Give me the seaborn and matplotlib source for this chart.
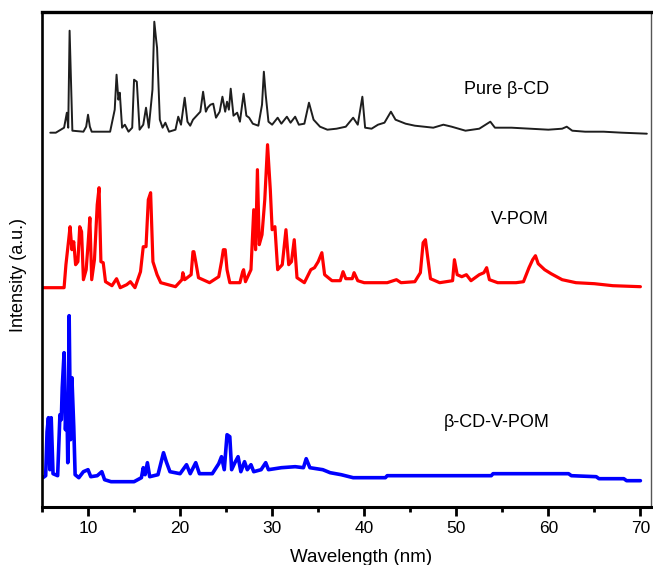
import matplotlib
matplotlib.use("Agg")
import matplotlib.pyplot as plt
from matplotlib.ticker import MultipleLocator
import seaborn as sns

# ---- data ----
pure_x = [5.9, 6.5, 7.4, 7.7, 7.85, 8.0, 8.3, 9.5, 9.8, 10.0, 10.2, 10.4, 12.4, 12.9, 13.1, 13.3, 13.45, 13.7,
          14.0, 14.4, 14.8, 15.0, 15.3, 15.6, 16.0, 16.3, 16.6, 17.0, 17.2, 17.4, 17.5, 17.8, 18.1,
          18.4, 18.8, 19.5, 19.8, 20.1, 20.5, 20.8, 21.1, 21.4, 21.8, 22.2, 22.5, 22.8, 23.0, 23.3,
          23.6, 23.9, 24.3, 24.6, 24.9, 25.1, 25.3, 25.5, 25.8, 26.2, 26.5, 26.9, 27.2, 27.5, 27.9,
          28.5, 28.9, 29.1, 29.3, 29.6, 30.0, 30.6, 31.0, 31.6, 32.0, 32.5, 32.9, 33.5, 34.0, 34.5,
          35.2, 36.0, 37.0, 38.0, 38.8, 39.3, 39.8, 40.1, 40.8, 41.5, 42.2, 42.9, 43.4, 44.5, 45.5,
          46.5, 47.5, 48.6, 49.5, 51.0, 52.5, 53.7, 54.2, 56.0, 58.0, 60.0, 61.5, 62.0, 62.6, 64.0,
          66.0, 68.0, 70.7]
pure_y = [374, 374, 379, 394, 379, 476, 376, 375, 380, 392, 380, 375, 375, 397, 432, 407, 414, 379,
          382, 375, 379, 427, 425, 377, 382, 399, 379, 417, 485, 467, 459, 387, 379,
          384, 375, 377, 390, 382, 409, 385, 381, 387, 391, 395, 415, 395, 399, 402,
          403, 389, 395, 410, 395, 405, 397, 418, 391, 394, 385, 413, 391, 389, 383,
          381, 402, 435, 412, 385, 382, 389, 383, 390, 384, 390, 382, 383, 404, 387,
          380, 377, 378, 380, 389, 382, 410, 379, 378, 382, 384, 395, 387, 383, 381,
          380, 379, 382, 380, 376, 378, 385, 379, 379, 378, 377, 378, 380, 376, 375,
          375, 374, 373]

vpom_x = [5.1, 7.4, 7.6, 7.9, 8.05, 8.25, 8.45, 8.65, 8.9, 9.1, 9.3, 9.5, 9.8, 10.0, 10.2, 10.4,
          10.7, 11.0, 11.2, 11.4, 11.65, 11.9, 12.6, 13.1, 13.5, 14.2, 14.6, 15.1, 15.7, 16.0,
          16.3, 16.55, 16.8, 17.05, 17.5, 17.9, 19.5, 20.2, 20.3, 20.5, 21.2, 21.4, 21.5, 21.7,
          22.0, 23.2, 24.2, 24.5, 24.7, 24.9, 25.1, 25.4, 26.5, 26.8, 26.9, 27.1, 27.7, 28.0,
          28.2, 28.4, 28.6, 28.9, 29.2, 29.5, 29.8, 30.0, 30.3, 30.6, 31.1, 31.5, 31.8, 32.1,
          32.4, 32.7, 33.5, 34.2, 34.6, 35.0, 35.4, 35.7, 36.5, 37.4, 37.7, 38.0, 38.7, 38.9,
          39.3, 40.0, 42.5, 43.5, 44.0, 45.5, 46.1, 46.4, 46.65, 46.9, 47.2, 48.2, 49.6, 49.8,
          50.1, 50.6, 51.1, 51.6, 52.5, 53.0, 53.3, 53.6, 54.5, 56.5, 57.3, 57.9, 58.3, 58.6,
          58.9, 59.6, 60.3, 61.5, 63.0, 65.0, 67.0, 70.0]
vpom_y = [219, 219, 242, 267, 280, 257, 265, 242, 245, 280, 275, 227, 237, 262, 289, 227,
          247, 302, 319, 245, 244, 225, 221, 228, 219, 222, 225, 219, 235, 260,
          260, 307, 314, 245, 232, 224, 220, 227, 234, 227, 232, 255, 255, 245,
          229, 224, 230, 245, 257, 257, 237, 224, 224, 235, 237, 225, 237, 297,
          257, 337, 262, 272, 307, 362, 317, 277, 280, 237, 242, 277, 242, 245,
          267, 229, 224, 237, 239, 245, 254, 232, 226, 226, 235, 228, 228, 234,
          226, 224, 224, 227, 224, 225, 234, 264, 267, 249, 228, 224, 226, 247,
          232, 230, 232, 226, 232, 234, 239, 227, 224, 224, 225, 239, 247, 251,
          243, 237, 233, 227, 224, 223, 221, 220]

comp_x = [5.1, 5.4, 5.55, 5.7, 5.85, 6.0, 6.2, 6.7, 6.95, 7.1, 7.2, 7.4, 7.55, 7.7, 7.8, 7.95,
          8.1, 8.25, 8.45, 8.6, 9.0, 9.5, 10.0, 10.3, 11.0, 11.5, 11.8, 12.5, 15.0, 15.8, 16.0,
          16.2, 16.45, 16.7, 17.6, 18.2, 18.5, 18.9, 20.0, 20.7, 21.1, 21.7, 22.1, 23.5, 24.2,
          24.5, 24.8, 25.1, 25.4, 25.6, 25.95, 26.3, 26.6, 27.0, 27.3, 27.7, 28.0, 28.8, 29.3,
          29.6, 31.0, 32.5, 33.4, 33.7, 34.1, 35.5, 36.3, 37.5, 38.8, 42.3, 42.5, 53.8, 54.0,
          62.2, 62.5, 65.2, 65.5, 68.2, 68.5, 70.0]
comp_y = [29, 31, 75, 89, 37, 89, 33, 31, 92, 87, 119, 154, 77, 110, 44, 191,
          67, 129, 80, 32, 29, 35, 37, 30, 31, 35, 27, 25, 25, 29, 39,
          32, 44, 30, 32, 54, 45, 35, 33, 42, 33, 44, 33, 33, 43,
          50, 37, 72, 70, 37, 44, 50, 35, 45, 37, 42, 35, 37, 44,
          37, 39, 40, 39, 48, 39, 37, 34, 32, 29, 29, 31, 31, 33,
          33, 31, 30, 28, 28, 26, 26]

labels = ["Pure \u03b2-CD", "V-POM", "\u03b2-CD-V-POM"]
label_y = [417, 287, 84]
xticks = [10, 20, 30, 40, 50, 60, 70]

# ---- style ----
sns.set_style("white")
plt.rcParams["font.family"] = ["Liberation Sans", "DejaVu Sans"]

fig = plt.figure(figsize=(6.53, 5.65), dpi=100)
ax = fig.add_axes([0.0643, 0.1032, 0.9319, 0.8761])

sns.lineplot(x=pure_x, y=pure_y, sort=False, estimator=None, color="#1e1e1e", lw=1.4, ax=ax)
sns.lineplot(x=vpom_x, y=vpom_y, sort=False, estimator=None, color="#ff0000", lw=2.3, ax=ax)
sns.lineplot(x=comp_x, y=comp_y, sort=False, estimator=None, color="#0000ff", lw=2.6, ax=ax)

for txt, yy in zip(labels, label_y):
    ax.text(60.1, yy, txt, ha="right", va="center", fontsize=13, color="black")

ax.set_xlim(5, 71.1)
ax.set_ylim(0, 495)
ax.set_xticks(xticks)
ax.set_xticklabels([str(t) for t in xticks], fontsize=12.5, color="black")
ax.xaxis.set_minor_locator(MultipleLocator(5))
ax.set_yticks([])
ax.tick_params(axis="x", which="major", direction="out", length=6.5, width=2, color="black",
               bottom=True, pad=4)
ax.tick_params(axis="x", which="minor", direction="out", length=3.5, width=2, color="black",
               bottom=True)

ax.set_xlabel("Wavelength (nm)", fontsize=13.5, color="black")
ax.set_ylabel("Intensity (a.u.)", fontsize=13, color="black")
ax.xaxis.set_label_coords(0.524, -0.085)
ax.yaxis.set_label_coords(-0.024, 0.469)

for side, lw, col in [("top", 2.4, "black"), ("left", 1.9, "black"),
                      ("bottom", 2.2, "black"), ("right", 1.0, "#555555")]:
    ax.spines[side].set_visible(True)
    ax.spines[side].set_linewidth(lw)
    ax.spines[side].set_color(col)

fig.savefig("out.png", dpi=100)
